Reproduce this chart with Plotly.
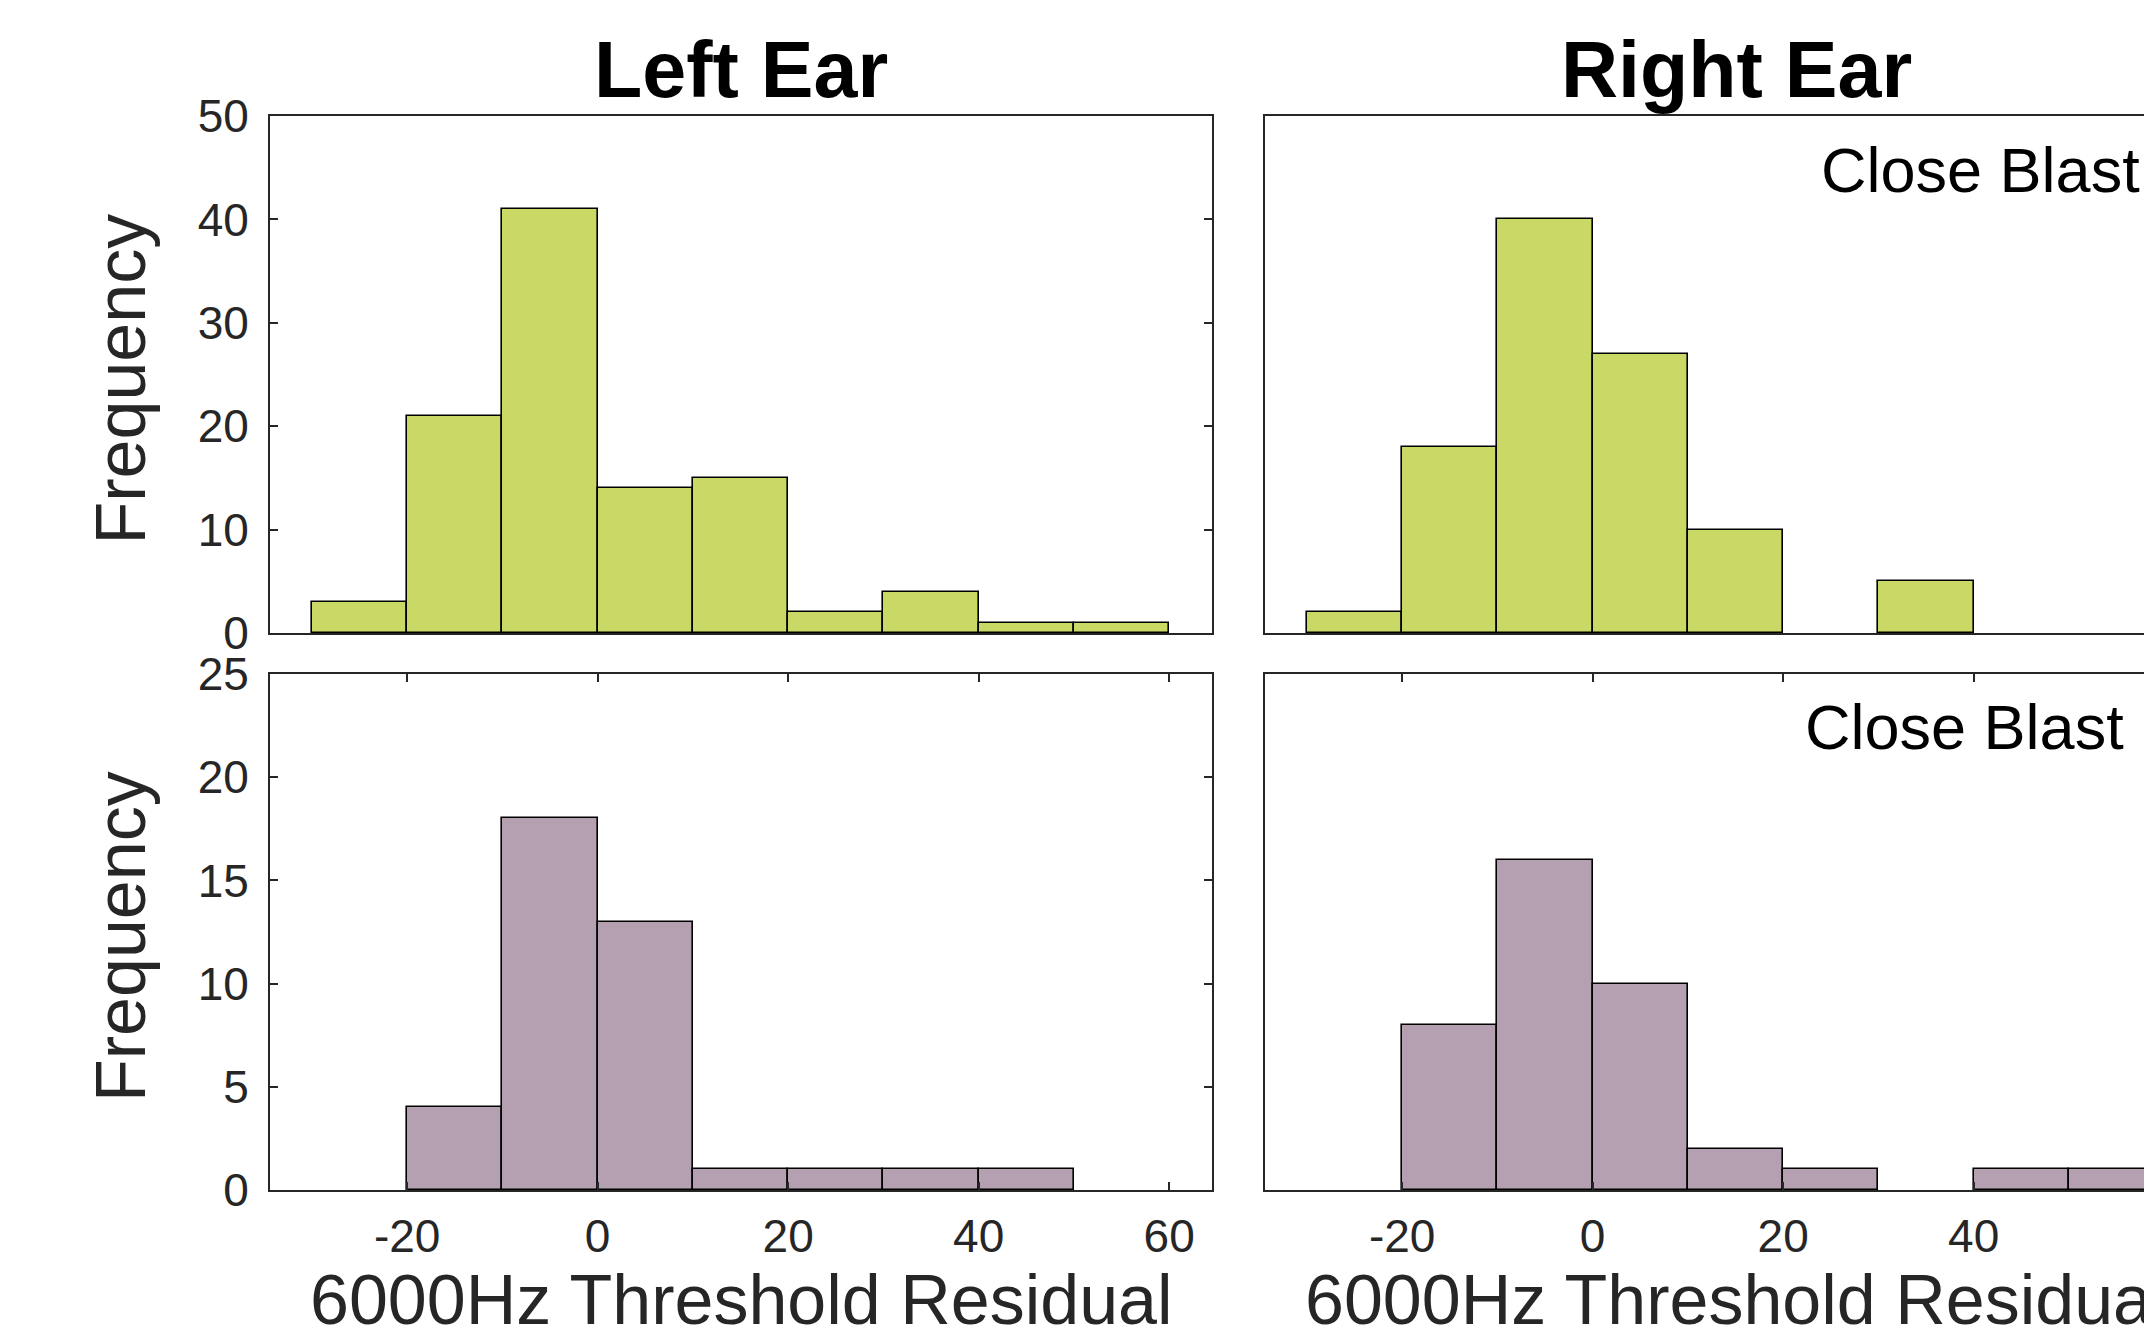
import plotly.graph_objects as go

# ---------------- data ----------------
bin_edges = [-30, -20, -10, 0, 10, 20, 30, 40, 50, 60]
left_top_counts = [3, 21, 41, 14, 15, 2, 4, 1, 1]
right_top_counts = [2, 18, 40, 27, 10, 0, 5, 0, 0]
left_bottom_counts = [0, 4, 18, 13, 1, 1, 1, 1, 0]
right_bottom_counts = [0, 8, 16, 10, 2, 1, 0, 1, 1]

column_titles = ["Left Ear", "Right Ear"]
x_label = "6000Hz Threshold Residual"
y_label = "Frequency"
group_labels = ["Close Blast", "Close Blast -"]
x_tick_vals = [-20, 0, 20, 40, 60]
x_tick_text = ["-20", "0", "20", "40", "60"]
y_ticks_top = [0, 10, 20, 30, 40, 50]
y_ticks_bottom = [0, 5, 10, 15, 20, 25]

# ---------------- style ----------------
OFF = 8                      # page body margin
W, H = 2152 - OFF, 1340 - OFF
GREEN = "#CAD866"
PURPLE = "#B4A0B0"
AXC = "#262626"
FONT = "Liberation Sans, Arial, Helvetica, sans-serif"

# panel boxes in screen pixels
LX0, LX1 = 270, 1212
RX0, RX1 = 1265, 2207
TY0, TY1 = 116, 633
BY0, BY1 = 674, 1190
XR = [-34.4, 64.5]


def px(x):
    return (x - OFF) / W


def py(y):
    return 1 - (y - OFF) / H


centers = [(a + b) / 2 for a, b in zip(bin_edges[:-1], bin_edges[1:])]
widths = [b - a for a, b in zip(bin_edges[:-1], bin_edges[1:])]

fig = go.Figure()


def add_hist(counts, color, xa, ya):
    fig.add_trace(go.Bar(
        x=centers, y=[c if c else None for c in counts], width=widths,
        marker=dict(color=color, line=dict(color="black", width=1.6)),
        xaxis=xa, yaxis=ya, showlegend=False, hoverinfo="x+y",
    ))


add_hist(left_top_counts, GREEN, "x", "y")
add_hist(right_top_counts, GREEN, "x2", "y2")
add_hist(left_bottom_counts, PURPLE, "x3", "y3")
add_hist(right_bottom_counts, PURPLE, "x4", "y4")

# right panels are cut by the picture edge
r_vis_end = XR[0] + (W + OFF - RX0) / (RX1 - RX0) * (XR[1] - XR[0])

tickfont = dict(family=FONT, size=46, color=AXC)
common = dict(showgrid=False, zeroline=False, linecolor=AXC, linewidth=2,
              tickcolor=AXC, tickwidth=2, ticklen=8, tickfont=tickfont,
              automargin=False)

layout = dict(
    width=W, height=H, margin=dict(l=0, r=0, t=0, b=0, autoexpand=False),
    paper_bgcolor="white", plot_bgcolor="white", bargap=0,
    font=dict(family=FONT, color=AXC),
    xaxis=dict(domain=[px(LX0), px(LX1)], range=XR, anchor="y", showline=True,
               mirror=True, ticks="", showticklabels=False, **common),
    yaxis=dict(domain=[py(TY1), py(TY0)], range=[0, 50], anchor="x", showline=True,
               mirror="ticks", ticks="inside", tickvals=y_ticks_top,
               ticklabelstandoff=10, **common),
    xaxis2=dict(domain=[px(RX0), 1.0], range=[XR[0], r_vis_end], anchor="y2",
                showline=True, mirror=True, ticks="", showticklabels=False, **common),
    yaxis2=dict(domain=[py(TY1), py(TY0)], range=[0, 50], anchor="x2", showline=True,
                mirror=False, ticks="", showticklabels=False, **common),
    xaxis3=dict(domain=[px(LX0), px(LX1)], range=XR, anchor="y3", showline=True,
                mirror="ticks", ticks="inside", tickvals=x_tick_vals,
                ticktext=x_tick_text, ticklabelstandoff=5, **common),
    yaxis3=dict(domain=[py(BY1), py(BY0)], range=[0, 25], anchor="x3", showline=True,
                mirror="ticks", ticks="inside", tickvals=y_ticks_bottom,
                ticklabelstandoff=10, **common),
    xaxis4=dict(domain=[px(RX0), 1.0], range=[XR[0], r_vis_end], anchor="y4",
                showline=True, mirror="ticks", ticks="inside", tickvals=x_tick_vals,
                ticktext=x_tick_text, ticklabelstandoff=5, **common),
    yaxis4=dict(domain=[py(BY1), py(BY0)], range=[0, 25], anchor="x4", showline=True,
                mirror=False, ticks="", showticklabels=False, **common),
)
fig.update_layout(**layout)

ann = []
for title, (x0, x1) in zip(column_titles, [(LX0, LX1), (RX0, RX1)]):
    ann.append(dict(text=f"<b>{title}</b>", x=px((x0 + x1) / 2), y=py(69),
                    xref="paper", yref="paper", xanchor="center", yanchor="middle",
                    showarrow=False, font=dict(family=FONT, size=79, color="black")))
    ann.append(dict(text=x_label, x=px((x0 + x1) / 2), y=py(1300),
                    xref="paper", yref="paper", xanchor="center", yanchor="middle",
                    showarrow=False, font=dict(family=FONT, size=70, color=AXC)))
for (y0, y1) in [(TY0, TY1), (BY0, BY1)]:
    ann.append(dict(text=y_label, x=px(121), y=py((y0 + y1) / 2 + 5), textangle=-90,
                    xref="paper", yref="paper", xanchor="center", yanchor="middle",
                    showarrow=False, font=dict(family=FONT, size=70, color=AXC)))
for lab, xl, yc in zip(group_labels, [1819, 1803], [170, 727]):
    ann.append(dict(text=lab, x=px(xl), y=py(yc), xref="paper", yref="paper",
                    xanchor="left", yanchor="middle", showarrow=False,
                    font=dict(family=FONT, size=63, color="black")))
fig.update_layout(annotations=ann)

fig.write_html("out.html")
